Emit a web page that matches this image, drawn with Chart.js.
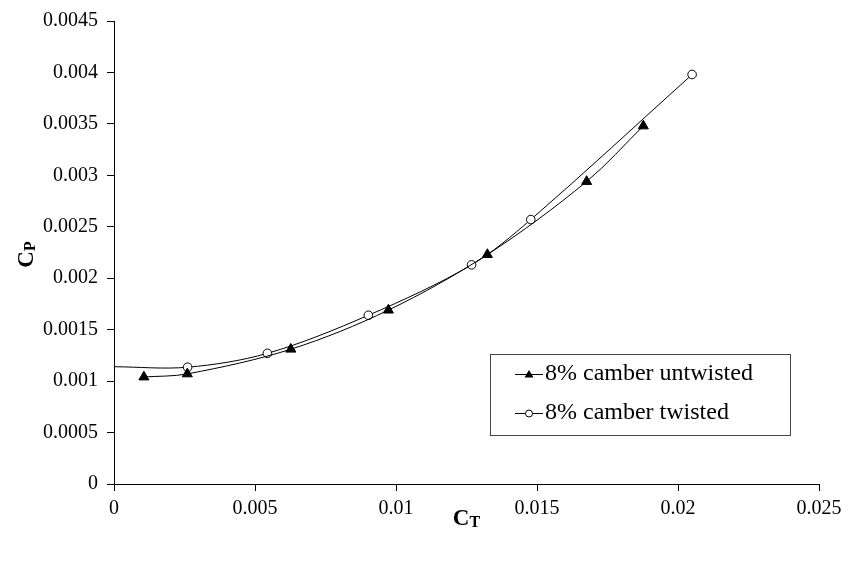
<!DOCTYPE html>
<html>
<head>
<meta charset="utf-8">
<script src="https://cdn.jsdelivr.net/npm/chart.js@4/dist/chart.umd.min.js"></script>
<style>
  body { margin: 0; background: #fff; }
</style>
</head>
<body>
<canvas id="chartCp" width="848" height="565"></canvas>
<script>
// values
var untwistedCT = [0.00106, 0.0026, 0.00627, 0.00973, 0.01324, 0.01676, 0.01877];
var untwistedCP = [0.00104, 0.00107, 0.00131, 0.00169, 0.00223, 0.00294, 0.00348];
var twistedCT = [0, 0.00261, 0.00544, 0.00902, 0.01268, 0.01478, 0.0205];
var twistedCP = [0.00114, 0.001135, 0.00127, 0.00164, 0.00213, 0.00257, 0.00398];
var seriesNames = ['8% camber untwisted', '8% camber twisted'];
var xTickStep = 0.005, xMax = 0.025;
var yTickStep = 0.0005, yMax = 0.0045;

var serif = "'Liberation Serif', 'Times New Roman', serif";
Chart.defaults.font.family = serif;
Chart.defaults.color = '#000';

function toPoints(xs, ys) {
    var pts = [];
    for (var i = 0; i < xs.length; i++) {
        pts.push({x: xs[i], y: ys[i]});
    }
    return pts;
}

// small legend icon: line with the marker on it
function legendIcon(kind) {
    var c = document.createElement('canvas');
    c.width = 38;
    c.height = 14;
    var g = c.getContext('2d');
    g.strokeStyle = '#000';
    g.lineWidth = 1;
    g.beginPath();
    g.moveTo(10, 7.5);
    g.lineTo(38, 7.5);
    g.stroke();
    g.beginPath();
    if (kind === 'triangle') {
        g.moveTo(24, 3);
        g.lineTo(28.5, 10.5);
        g.lineTo(19.5, 10.5);
        g.closePath();
        g.fillStyle = '#000';
        g.fill();
    } else {
        g.arc(24, 7.5, 3.5, 0, Math.PI * 2);
        g.fillStyle = '#fff';
        g.fill();
        g.stroke();
    }
    return c;
}
var icons = [legendIcon('triangle'), legendIcon('circle')];

var twistedRadius = twistedCT.map(function (v, i) { return i === 0 ? 0 : 4.3; });

var extras = {
    id: 'extras',
    afterLayout: function (chart) {
        var a = chart.chartArea;
        var lg = chart.legend;
        lg.left = a.left + 386;
        lg.top = a.top + 326;
    },
    afterDraw: function (chart) {
        var ctx = chart.ctx;
        var a = chart.chartArea;
        ctx.save();
        // legend frame
        ctx.strokeStyle = '#444';
        ctx.lineWidth = 1;
        ctx.strokeRect(a.left + 376.5, a.top + 333.5, 300, 81);

        // axis titles with subscripts
        ctx.fillStyle = '#000';
        ctx.textBaseline = 'alphabetic';
        ctx.textAlign = 'left';
        var big = 'bold 23px ' + serif, small = 'bold 16px ' + serif;
        ctx.font = big;
        var wC = ctx.measureText('C').width;
        ctx.font = small;
        var wT = ctx.measureText('T').width;
        var wP = ctx.measureText('P').width;

        var cx = (a.left + a.right) / 2;
        ctx.font = big;
        ctx.fillText('C', cx - (wC + wT) / 2, 525);
        ctx.font = small;
        ctx.fillText('T', cx - (wC + wT) / 2 + wC, 527);

        ctx.translate(33, (a.top + a.bottom) / 2 + 2);
        ctx.rotate(-Math.PI / 2);
        ctx.font = big;
        ctx.fillText('C', -(wC + wP) / 2, 0);
        ctx.font = small;
        ctx.fillText('P', -(wC + wP) / 2 + wC, 2);
        ctx.restore();
    }
};

function fmt(v) {
    return String(+v.toFixed(5));
}

var ctx = document.getElementById('chartCp').getContext('2d');
var chartCp = new Chart(ctx, {
    type: 'scatter',
    data: {
        datasets: [
            {
                label: seriesNames[0],
                data: toPoints(untwistedCT, untwistedCP),
                showLine: true,
                tension: 0.33,
                borderColor: '#000',
                borderWidth: 1,
                pointStyle: 'triangle',
                pointRadius: 5.8,
                pointBackgroundColor: '#000',
                pointBorderColor: '#000',
                pointBorderWidth: 1
            },
            {
                label: seriesNames[1],
                data: toPoints(twistedCT, twistedCP),
                showLine: true,
                tension: 0.33,
                borderColor: '#000',
                borderWidth: 1,
                pointStyle: 'circle',
                pointRadius: twistedRadius,
                pointBackgroundColor: '#fff',
                pointBorderColor: '#000',
                pointBorderWidth: 1
            }
        ]
    },
    options: {
        responsive: false,
        animation: false,
        events: [],
        layout: {padding: {top: 15, right: 29, left: 0, bottom: 0}},
        scales: {
            x: {
                type: 'linear',
                min: 0,
                max: xMax,
                afterFit: function (s) { s.height = 81; },
                border: {display: true, color: '#000', width: 1},
                grid: {drawOnChartArea: false, drawTicks: true, tickLength: 7, color: '#000'},
                ticks: {
                    stepSize: xTickStep,
                    padding: 6,
                    color: '#000',
                    font: {size: 20},
                    maxRotation: 0,
                    callback: fmt
                }
            },
            y: {
                type: 'linear',
                min: 0,
                max: yMax,
                afterFit: function (s) { s.width = 114; },
                border: {display: true, color: '#000', width: 1},
                grid: {drawOnChartArea: false, drawTicks: true, tickLength: 7, color: '#000'},
                ticks: {
                    stepSize: yTickStep,
                    padding: 9,
                    color: '#000',
                    font: {size: 20},
                    callback: fmt
                }
            }
        },
        plugins: {
            title: {display: false},
            tooltip: {enabled: false},
            legend: {
                display: true,
                position: 'chartArea',
                align: 'start',
                labels: {
                    usePointStyle: true,
                    pointStyleWidth: 18,
                    padding: 15,
                    color: '#000',
                    font: {size: 24},
                    generateLabels: function (chart) {
                        return chart.data.datasets.map(function (ds, i) {
                            return {
                                text: ds.label,
                                pointStyle: icons[i],
                                fillStyle: '#000',
                                strokeStyle: '#000',
                                lineWidth: 0,
                                hidden: false,
                                datasetIndex: i,
                                fontColor: '#000'
                            };
                        });
                    }
                }
            }
        }
    },
    plugins: [extras]
});
</script>
</body>
</html>
